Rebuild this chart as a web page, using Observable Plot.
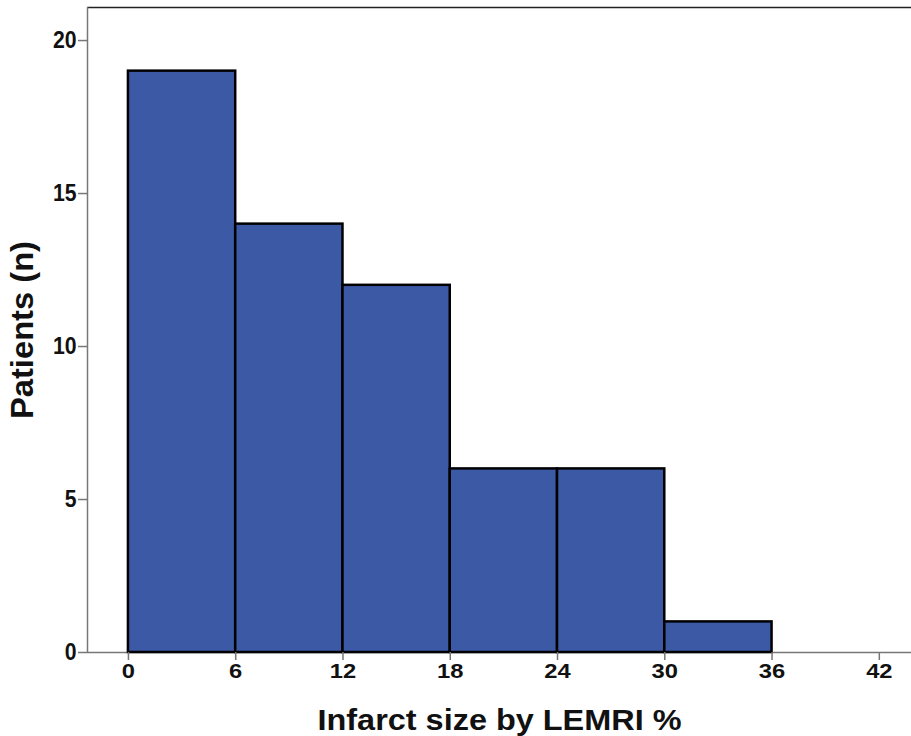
<!DOCTYPE html>
<html>
<head>
<meta charset="utf-8">
<script src="https://cdn.jsdelivr.net/npm/d3@7"></script>
<script src="https://cdn.jsdelivr.net/npm/@observablehq/plot@0.6"></script>
<style>
  html, body { margin: 0; padding: 0; background: #fff; }
  svg { display: block; }
</style>
</head>
<body>
<div id="chart"></div>
<script>
const binStart = [0, 6, 12, 18, 24, 30];
const binEnd = [6, 12, 18, 24, 30, 36];
const counts = [19, 14, 12, 6, 6, 1];
const xTicks = [0, 6, 12, 18, 24, 30, 36, 42];
const yTicks = [0, 5, 10, 15, 20];
const xTitle = "Infarct size by LEMRI %";
const yTitle = "Patients (n)";

const bins = binStart.map((s, i) => ({x1: s, x2: binEnd[i], y: counts[i]}));

const xDomain = [-2.29, 43.8];
const yDomain = [0, 21.08];

const chart = Plot.plot({
  width: 911,
  height: 736,
  marginLeft: 87,
  marginRight: 0,
  marginTop: 7,
  marginBottom: 84,
  style: {fontFamily: "'Liberation Sans', Arial, sans-serif", background: "#fff"},
  x: {domain: xDomain},
  y: {domain: yDomain},
  marks: [
    Plot.ruleY([yDomain[1]], {stroke: "#222", strokeWidth: 1.5}),
    Plot.ruleY([0], {stroke: "#777", strokeWidth: 1.5}),
    Plot.ruleX([xDomain[0]], {stroke: "#777", strokeWidth: 1.5}),
    Plot.rectY(bins, {x1: "x1", x2: "x2", y: "y", fill: "#3c59a6", stroke: "#000", strokeWidth: 2.5}),
    Plot.axisX(xTicks, {tickSize: 8, tickPadding: 3, stroke: "#777", strokeWidth: 1.5, fontWeight: "bold", fill: "#111", label: null}),
    Plot.axisY(yTicks, {tickSize: 9, tickPadding: 2, stroke: "#777", strokeWidth: 1.5, fontWeight: "bold", fill: "#111", label: null}),
    Plot.text([xTitle], {frameAnchor: "bottom", textAnchor: "middle", lineAnchor: "middle", dy: 68, fontSize: 29, fontWeight: "bold", fill: "#111", className: "xtitle"}),
    Plot.text([yTitle], {frameAnchor: "left", textAnchor: "middle", lineAnchor: "middle", rotate: -90, dx: -65, fontSize: 32, fontWeight: "bold", fill: "#111", className: "ytitle"})
  ]
});
document.getElementById("chart").appendChild(chart);
const svg = d3.select(chart);
// tick label sizes: y labels taller and narrow, x labels slightly spaced
svg.selectAll('g[aria-label="y-axis tick label"]').attr("font-size", 24);
svg.selectAll('g[aria-label="y-axis tick label"] text').style("font-size", "24px")
  .each(function() { const n = this.textContent.length; d3.select(this).attr("textLength", 11.8 * n).attr("lengthAdjust", "spacingAndGlyphs"); });
svg.selectAll('g[aria-label="x-axis tick label"]').attr("font-size", 20.5);
svg.selectAll('g[aria-label="x-axis tick label"] text').style("font-size", "20.5px")
  .each(function() { const n = this.textContent.length; d3.select(this).attr("textLength", 13.2 * n).attr("lengthAdjust", "spacingAndGlyphs"); });
// stretch the titles to the reference's text lengths
svg.selectAll("g.xtitle text").attr("textLength", 364).attr("lengthAdjust", "spacingAndGlyphs");
svg.selectAll("g.ytitle text").attr("textLength", 178).attr("lengthAdjust", "spacingAndGlyphs");
</script>
</body>
</html>
